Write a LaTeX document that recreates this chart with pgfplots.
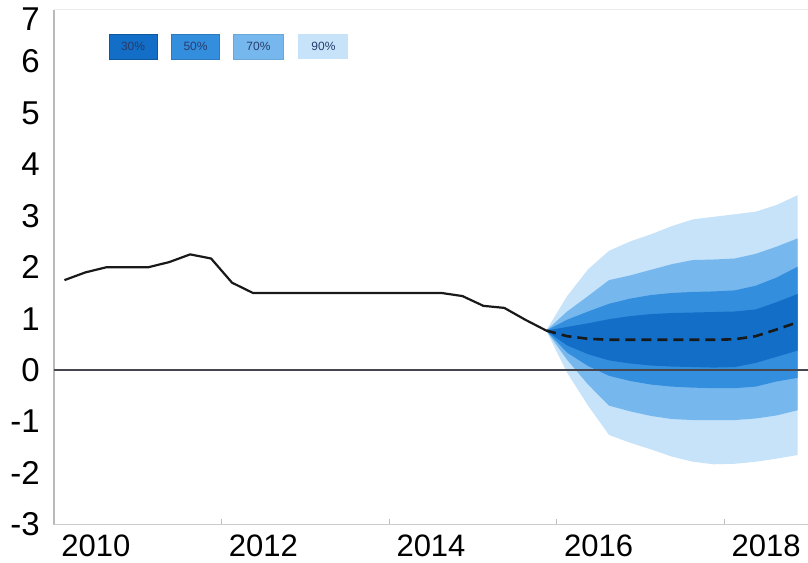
\documentclass[border=0pt]{standalone}
\usepackage{fontspec}
\setmainfont{Liberation Sans}
\usepackage{pgfplots}
\usepackage{pgfplotstable}
\pgfplotsset{compat=1.18}
\usepgfplotslibrary{fillbetween}

\definecolor{c30}{RGB}{18,110,198}
\definecolor{c50}{RGB}{52,142,222}
\definecolor{c70}{RGB}{118,184,238}
\definecolor{c90}{RGB}{198,227,249}
\definecolor{legtext}{RGB}{40,60,110}
\definecolor{zeroline}{RGB}{70,70,80}

\pgfplotstableread{
x y
2010.125 1.75
2010.375 1.90
2010.625 2.00
2010.875 2.00
2011.125 2.00
2011.375 2.10
2011.625 2.25
2011.875 2.17
2012.125 1.70
2012.375 1.50
2012.625 1.50
2012.875 1.50
2013.125 1.50
2013.375 1.50
2013.625 1.50
2013.875 1.50
2014.125 1.50
2014.375 1.50
2014.625 1.50
2014.875 1.44
2015.125 1.25
2015.375 1.21
2015.625 0.98
2015.875 0.77
}\hist

\pgfplotstableread{
x m u90 l90 u70 l70 u50 l50 u30 l30
2015.875 0.77 0.77 0.77 0.77 0.77 0.77 0.77 0.77 0.77
2016.125 0.66 1.44 -0.05 1.14 0.20 0.98 0.34 0.84 0.48
2016.375 0.61 1.96 -0.69 1.44 -0.28 1.14 0.08 0.91 0.31
2016.625 0.59 2.32 -1.26 1.75 -0.69 1.29 -0.11 0.99 0.19
2016.875 0.59 2.50 -1.41 1.84 -0.80 1.39 -0.21 1.05 0.13
2017.125 0.59 2.64 -1.54 1.95 -0.89 1.46 -0.28 1.09 0.09
2017.375 0.59 2.80 -1.68 2.06 -0.95 1.50 -0.32 1.11 0.07
2017.625 0.59 2.93 -1.78 2.14 -0.97 1.52 -0.34 1.12 0.06
2017.875 0.59 2.98 -1.83 2.15 -0.97 1.53 -0.35 1.13 0.05
2018.125 0.60 3.03 -1.82 2.17 -0.97 1.55 -0.35 1.14 0.06
2018.375 0.66 3.08 -1.78 2.26 -0.94 1.64 -0.32 1.18 0.14
2018.625 0.79 3.21 -1.72 2.40 -0.88 1.80 -0.22 1.32 0.26
2018.875 0.93 3.40 -1.65 2.56 -0.78 2.01 -0.15 1.48 0.38
}\fan

\begin{document}
\begin{tikzpicture}
\begin{axis}[
  name=ax, at={(0,0)}, anchor=south west,
  scale only axis, width=754pt, height=514.5pt,
  xmin=2010, xmax=2019, ymin=-3, ymax=7,
  axis line style={draw=none},
  tick pos=left,
  xtick={2010.5,2012.5,2014.5,2016.5,2018.5},
  xticklabels={2010,2012,2014,2016,2018},
  minor xtick={2012,2014,2016,2018},
  ytick={-3,-2,-1,0,1,2,3,4,5,6},
  yticklabels={-3,-2,-1,0,1,2,3,4,5,6},
  extra y ticks={7},
  extra y tick labels={7},
  extra y tick style={yticklabel style={yshift=-9pt}},
  major tick length=0pt,
  minor tick length=5pt,
  minor tick style={gray!50, line width=1pt},
  xticklabel style={font=\fontsize{31}{31}\selectfont, inner sep=0pt, anchor=north, yshift=-10pt},
  yticklabel style={font=\fontsize{33}{33}\selectfont, inner sep=0pt, anchor=east, xshift=-14pt},
  clip=false,
]
% spines
\draw[gray!55, line width=1.3pt] (rel axis cs:0,0) -- (rel axis cs:0,1);
\draw[gray!40, line width=1.2pt] (rel axis cs:0,0) -- (rel axis cs:1,0);
\draw[gray!15, line width=1pt] (rel axis cs:0,1) -- (rel axis cs:1,1);

% fan bands
\addplot[name path=u90, draw=none, forget plot] table[x=x, y=u90] {\fan};
\addplot[name path=l90, draw=none, forget plot] table[x=x, y=l90] {\fan};
\addplot[name path=u70, draw=none, forget plot] table[x=x, y=u70] {\fan};
\addplot[name path=l70, draw=none, forget plot] table[x=x, y=l70] {\fan};
\addplot[name path=u50, draw=none, forget plot] table[x=x, y=u50] {\fan};
\addplot[name path=l50, draw=none, forget plot] table[x=x, y=l50] {\fan};
\addplot[name path=u30, draw=none, forget plot] table[x=x, y=u30] {\fan};
\addplot[name path=l30, draw=none, forget plot] table[x=x, y=l30] {\fan};
\addplot[c90, draw=none, forget plot] fill between[of=u90 and l90];
\addplot[c70, draw=none, forget plot] fill between[of=u70 and l70];
\addplot[c50, draw=none, forget plot] fill between[of=u50 and l50];
\addplot[c30, draw=none, forget plot] fill between[of=u30 and l30];

% zero line
\addplot[zeroline, line width=2pt, forget plot] coordinates {(2010,0) (2019,0)};

% history
\addplot[black!90, line width=2.2pt, line join=round, forget plot] table[x=x, y=y] {\hist};
% median forecast
\addplot[black!90, line width=2.6pt, dash pattern=on 10pt off 6pt, forget plot] table[x=x, y=m] {\fan};

% legend boxes
\node[fill=c30, draw=c30!80!black, line width=0.6pt, minimum width=48pt, minimum height=25pt, inner sep=0pt, text=legtext, font=\fontsize{12}{12}\selectfont] at (rel axis cs:0.1048,0.929) {30\%};
\node[fill=c50, draw=c50!85!black, line width=0.6pt, minimum width=48pt, minimum height=25pt, inner sep=0pt, text=legtext, font=\fontsize{12}{12}\selectfont] at (rel axis cs:0.1877,0.929) {50\%};
\node[fill=c70, draw=c70!90!black, line width=0.6pt, minimum width=50pt, minimum height=25pt, inner sep=0pt, text=legtext, font=\fontsize{12}{12}\selectfont] at (rel axis cs:0.2712,0.929) {70\%};
\node[fill=c90, draw=none, minimum width=50pt, minimum height=25pt, inner sep=0pt, text=legtext, font=\fontsize{12}{12}\selectfont] at (rel axis cs:0.3574,0.929) {90\%};
\end{axis}
\pgfresetboundingbox
\useasboundingbox (-54pt,-37.5pt) rectangle (754pt,524.5pt);
\end{tikzpicture}
\end{document}
